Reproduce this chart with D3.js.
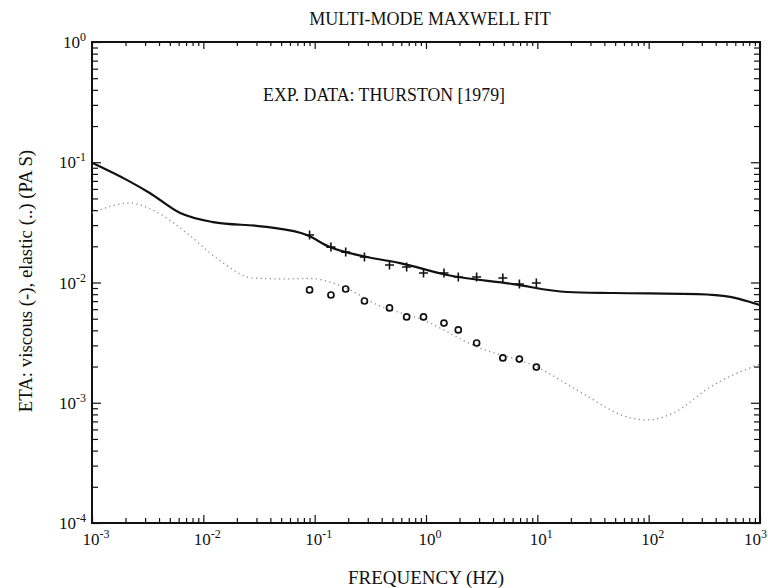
<!DOCTYPE html>
<html>
<head>
<meta charset="utf-8">
<script src="https://cdn.jsdelivr.net/npm/d3@7"></script>
<style>
  body { margin: 0; background: #fff; }
  svg { display: block; }
</style>
</head>
<body>
<div id="chart"></div>
<script>
// Multi-mode Maxwell fit, log-log plot

// fitted viscous curve (solid)
var solidFreq = [0.001, 0.00207, 0.0033, 0.0062, 0.0122, 0.037, 0.085, 0.137, 0.296, 0.585, 1.55, 6.07, 18.5, 48, 273, 540, 944, 1000];
var solidEta  = [0.099, 0.071, 0.0555, 0.0378, 0.0318, 0.029, 0.0248, 0.0197, 0.0163, 0.0145, 0.01155, 0.0097, 0.00834, 0.00818, 0.0080, 0.0076, 0.0066, 0.0065];

// fitted elastic curve (dotted)
var dottedFreq = [0.001, 0.00219, 0.0035, 0.0071, 0.0131, 0.028, 0.0515, 0.091, 0.181, 0.367, 0.94, 2.88, 9.95, 24.2, 68, 97, 166, 357, 944, 1000];
var dottedEta  = [0.0378, 0.0458, 0.0401, 0.0258, 0.016, 0.0109, 0.0107, 0.0108, 0.0092, 0.0065, 0.00488, 0.00291, 0.00198, 0.00123, 0.00075, 0.00072, 0.00082, 0.00135, 0.00206, 0.0021];

// experimental data (Thurston 1979)
var dataFreq   = [0.09, 0.14, 0.19, 0.28, 0.47, 0.67, 0.95, 1.45, 1.95, 2.85, 4.9, 6.9, 9.8];
var viscousEta = [0.0248, 0.0197, 0.0179, 0.0163, 0.0140, 0.01345, 0.0120, 0.0120, 0.0111, 0.0111, 0.0109, 0.00972, 0.0099];
var elasticEta = [0.00867, 0.00787, 0.00883, 0.00702, 0.00614, 0.00517, 0.00517, 0.0046, 0.00403, 0.00314, 0.00236, 0.00231, 0.00198];

var xDecades = [-3, -2, -1, 0, 1, 2, 3];
var yDecades = [-4, -3, -2, -1, 0];

var width = 768, height = 588;
var margin = { left: 92, top: 42, right: 8, bottom: 65 };

var svg = d3.select("#chart").append("svg")
    .attr("width", width)
    .attr("height", height)
    .attr("font-family", "Liberation Serif");

var x = d3.scaleLog().domain([1e-3, 1e3]).range([margin.left, width - margin.right]);
var y = d3.scaleLog().domain([1e-4, 1]).range([height - margin.bottom, margin.top]);

// all tick positions 1..9 x 10^k
function logTicks(decades) {
    var t = [];
    for (var i = 0; i < decades.length; i++) {
        var base = Math.pow(10, decades[i]);
        if (i == decades.length - 1) { t.push(base); break; }
        for (var m = 1; m < 10; m++) t.push(m * base);
    }
    return t;
}
function isMajor(v) {
    var l = Math.log10(v);
    return Math.abs(l - Math.round(l)) < 1e-9;
}

var xTicks = logTicks(xDecades);
var yTicks = logTicks(yDecades);

function styleAxis(g, major, minor) {
    g.select(".domain").remove();
    g.selectAll(".tick line")
        .attr("stroke", "#111")
        .attr("stroke-width", 1.2)
        .each(function (d) {
            var line = d3.select(this);
            var len = isMajor(d) ? major : minor;
            if (line.attr("x2") != null && +line.attr("x2") != 0) line.attr("x2", line.attr("x2") > 0 ? len : -len);
            if (line.attr("y2") != null && +line.attr("y2") != 0) line.attr("y2", line.attr("y2") > 0 ? len : -len);
        });
    g.selectAll(".tick text").remove();
}

// inward ticks on all four sides
svg.append("g")
    .attr("transform", "translate(0," + y.range()[0] + ")")
    .call(d3.axisBottom(x).tickValues(xTicks).tickSize(-5))
    .call(styleAxis, 8, 5);
svg.append("g")
    .attr("transform", "translate(0," + y.range()[1] + ")")
    .call(d3.axisTop(x).tickValues(xTicks).tickSize(-5))
    .call(styleAxis, 7, 4);
svg.append("g")
    .attr("transform", "translate(" + x.range()[0] + ",0)")
    .call(d3.axisLeft(y).tickValues(yTicks).tickSize(-6))
    .call(styleAxis, 9, 6);
svg.append("g")
    .attr("transform", "translate(" + x.range()[1] + ",0)")
    .call(d3.axisRight(y).tickValues(yTicks).tickSize(-6))
    .call(styleAxis, 9, 6);

// frame
svg.append("rect")
    .attr("x", x.range()[0])
    .attr("y", y.range()[1])
    .attr("width", x.range()[1] - x.range()[0])
    .attr("height", y.range()[0] - y.range()[1])
    .attr("fill", "none")
    .attr("stroke", "#111")
    .attr("stroke-width", 2);

// power-of-ten labels
function powerLabel(sel, exp) {
    sel.attr("fill", "#111");
    sel.append("tspan").text("10").attr("font-size", "17px");
    sel.append("tspan").text(exp).attr("font-size", "12px").attr("dy", -7);
}
xDecades.forEach(function (e, i) {
    var last = i == xDecades.length - 1;
    svg.append("text")
        .attr("x", last ? width - 1 : x(Math.pow(10, e)) + 4)
        .attr("y", y.range()[0] + 22)
        .attr("text-anchor", last ? "end" : "middle")
        .call(powerLabel, e);
});
yDecades.forEach(function (e) {
    svg.append("text")
        .attr("x", x.range()[0] - 6)
        .attr("y", y(Math.pow(10, e)) + 6)
        .attr("text-anchor", "end")
        .call(powerLabel, e);
});

// fitted curves
var line = d3.line()
    .x(d => x(d[0]))
    .y(d => y(d[1]))
    .curve(d3.curveMonotoneX);

svg.append("path")
    .datum(d3.zip(dottedFreq, dottedEta))
    .attr("d", line)
    .attr("fill", "none")
    .attr("stroke", "#8a8a8a")
    .attr("stroke-width", 1.3)
    .attr("stroke-dasharray", "1.2,3.4");

svg.append("path")
    .datum(d3.zip(solidFreq, solidEta))
    .attr("d", line)
    .attr("fill", "none")
    .attr("stroke", "#111")
    .attr("stroke-width", 2.2);

// experimental points: + viscous, o elastic
svg.selectAll(".visc")
    .data(d3.zip(dataFreq, viscousEta))
    .enter()
    .append("path")
    .attr("d", "M-4.5,0H4.5M0,-4.5V4.5")
    .attr("transform", d => "translate(" + x(d[0]) + "," + y(d[1]) + ")")
    .attr("stroke", "#111")
    .attr("stroke-width", 1.6)
    .attr("fill", "none");

svg.selectAll(".elas")
    .data(d3.zip(dataFreq, elasticEta))
    .enter()
    .append("circle")
    .attr("cx", d => x(d[0]))
    .attr("cy", d => y(d[1]))
    .attr("r", 3)
    .attr("fill", "none")
    .attr("stroke", "#111")
    .attr("stroke-width", 1.7);

// titles
svg.append("text")
    .attr("x", 430)
    .attr("y", 25)
    .attr("text-anchor", "middle")
    .attr("font-size", "18px")
    .attr("fill", "#111")
    .text("MULTI-MODE MAXWELL FIT");

svg.append("text")
    .attr("x", 384)
    .attr("y", 101)
    .attr("text-anchor", "middle")
    .attr("font-size", "17.8px")
    .attr("fill", "#111")
    .text("EXP. DATA: THURSTON [1979]");

svg.append("text")
    .attr("x", 426)
    .attr("y", 584)
    .attr("text-anchor", "middle")
    .attr("font-size", "19px")
    .attr("fill", "#111")
    .text("FREQUENCY (HZ)");

svg.append("text")
    .attr("transform", "translate(32,281) rotate(-90)")
    .attr("text-anchor", "middle")
    .attr("font-size", "18.8px")
    .attr("fill", "#111")
    .text("ETA: viscous (-), elastic (..) (PA S)");
</script>
</body>
</html>
